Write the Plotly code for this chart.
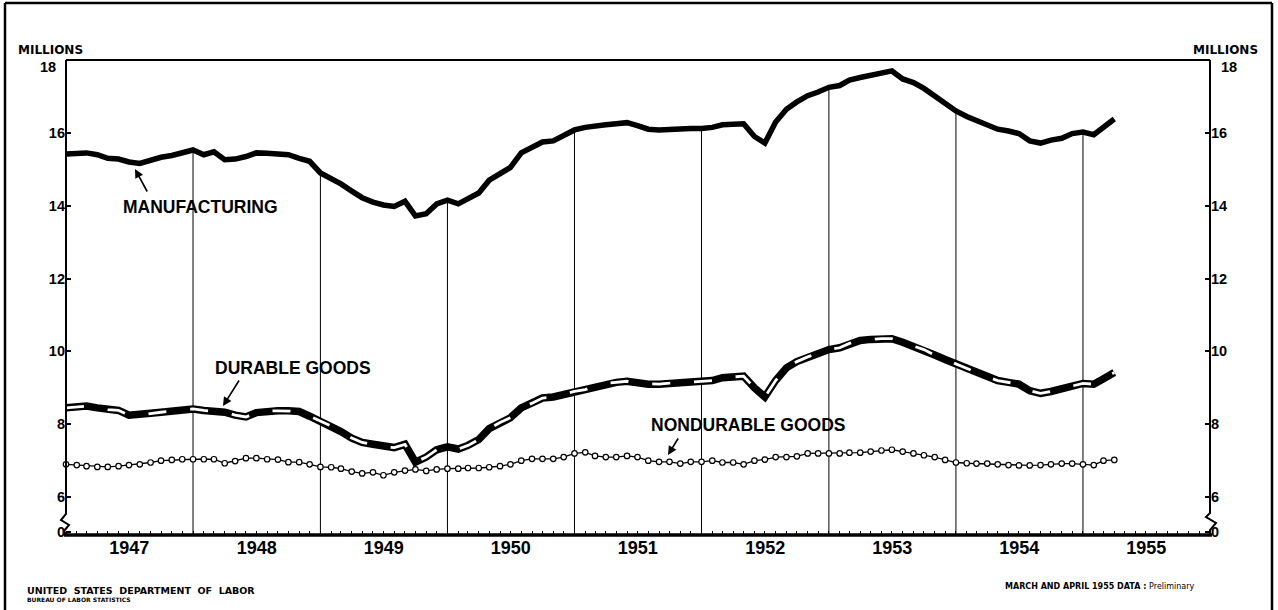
import plotly.graph_objects as go
import pandas as pd

# ---------------- data (millions of employees, monthly Jan 1947 - Apr 1955) ----------------
start_month = "1947-01-01"
n_months = 100
months = pd.date_range(start_month, periods=n_months, freq="MS")

manufacturing = [
    15.42, 15.44, 15.45, 15.40, 15.30, 15.28, 15.20, 15.16, 15.25, 15.33, 15.38, 15.45,
    15.53, 15.40, 15.48, 15.26, 15.28, 15.35, 15.45, 15.44, 15.42, 15.40, 15.30, 15.22,
    14.90, 14.75, 14.60, 14.40, 14.22, 14.10, 14.02, 13.98, 14.12, 13.72, 13.78, 14.05,
    14.15, 14.05, 14.20, 14.35, 14.70, 14.90, 15.05, 15.45, 15.60, 15.75, 15.78, 15.92,
    16.08, 16.15, 16.20, 16.22, 16.25, 16.28, 16.20, 16.10, 16.08, 16.10, 16.10, 16.12,
    16.12, 16.15, 16.22, 16.22, 16.25, 15.90, 15.72, 16.30, 16.65, 16.85, 17.02, 17.12,
    17.25, 17.30, 17.45, 17.52, 17.58, 17.62, 17.70, 17.48, 17.38, 17.22, 17.00, 16.82,
    16.60, 16.45, 16.35, 16.22, 16.10, 16.05, 15.98, 15.78, 15.72, 15.80, 15.85, 15.98,
    16.02, 15.95, 16.15, 16.38,
]

durable_goods = [
    8.45, 8.48, 8.50, 8.45, 8.40, 8.38, 8.25, 8.25, 8.30, 8.33, 8.36, 8.39,
    8.42, 8.38, 8.36, 8.33, 8.25, 8.20, 8.32, 8.36, 8.37, 8.37, 8.35, 8.22,
    8.08, 7.95, 7.80, 7.62, 7.50, 7.45, 7.38, 7.36, 7.45, 6.96, 7.10, 7.30,
    7.38, 7.32, 7.42, 7.58, 7.88, 8.05, 8.18, 8.45, 8.58, 8.72, 8.75, 8.82,
    8.90, 8.95, 9.05, 9.12, 9.15, 9.18, 9.12, 9.10, 9.10, 9.13, 9.18, 9.16,
    9.18, 9.20, 9.28, 9.30, 9.32, 9.00, 8.75, 9.20, 9.55, 9.72, 9.85, 9.95,
    10.05, 10.10, 10.22, 10.30, 10.33, 10.35, 10.35, 10.25, 10.15, 10.05, 9.90, 9.78,
    9.65, 9.52, 9.42, 9.30, 9.20, 9.15, 9.10, 8.92, 8.85, 8.90, 8.95, 9.05,
    9.12, 9.10, 9.25, 9.42,
]

nondurable_goods = [
    6.90, 6.88, 6.85, 6.83, 6.83, 6.85, 6.88, 6.90, 6.95, 7.00, 7.02, 7.04,
    7.04, 7.04, 7.04, 6.93, 6.99, 7.07, 7.07, 7.04, 7.03, 6.96, 6.96, 6.90,
    6.83, 6.82, 6.78, 6.70, 6.65, 6.68, 6.60, 6.68, 6.73, 6.76, 6.72, 6.76,
    6.78, 6.78, 6.80, 6.80, 6.82, 6.85, 6.90, 7.00, 7.05, 7.05, 7.05, 7.10,
    7.20, 7.23, 7.13, 7.10, 7.10, 7.13, 7.10, 7.00, 6.97, 6.97, 6.92, 6.97,
    6.97, 7.00, 6.95, 6.95, 6.90, 7.00, 7.03, 7.10, 7.10, 7.12, 7.20, 7.20,
    7.20, 7.20, 7.22, 7.22, 7.25, 7.28, 7.30, 7.25, 7.20, 7.15, 7.10, 7.02,
    6.95, 6.93, 6.92, 6.92, 6.90, 6.88, 6.87, 6.87, 6.88, 6.90, 6.92, 6.92,
    6.90, 6.88, 7.00, 7.02,
]

years = [1947, 1948, 1949, 1950, 1951, 1952, 1953, 1954, 1955]
year_labels = [str(y) for y in years]
y_tick_values = [5.05, 6, 8, 10, 12, 14, 16, 18]
y_tick_labels = ["0", "6", "8", "10", "12", "14", "16", ""]
top_label = "18"
y_bottom = 4.96
y_top = 18

# ---------------- figure ----------------
SANS = "Liberation Sans, Arial, sans-serif"
HEAVY = "DejaVu Sans, Verdana, sans-serif"

fig = go.Figure()

# vertical year lines, from the base up to the manufacturing curve
vx, vy = [], []
for i, d in enumerate(months):
    if d.month == 1 and d.year > 1947:
        vx += [d, d, None]
        vy += [y_bottom, manufacturing[i], None]
fig.add_trace(go.Scatter(x=vx, y=vy, mode="lines", line=dict(color="black", width=1),
                         hoverinfo="skip", showlegend=False))

fig.add_trace(go.Scatter(x=months, y=manufacturing, mode="lines", name="Manufacturing",
                         line=dict(color="black", width=5.5), showlegend=False))

fig.add_trace(go.Scatter(x=months, y=durable_goods, mode="lines", name="Durable goods",
                         line=dict(color="black", width=7.5), showlegend=False))
fig.add_trace(go.Scatter(x=months, y=durable_goods, mode="lines", hoverinfo="skip",
                         line=dict(color="white", width=2.8, dash="18px,24px"), showlegend=False))

fig.add_trace(go.Scatter(x=months, y=nondurable_goods, mode="lines+markers", name="Nondurable goods",
                         line=dict(color="black", width=1.3),
                         marker=dict(symbol="circle", size=5.5, color="white",
                                     line=dict(color="black", width=1.2)),
                         showlegend=False, cliponaxis=False))

# dummy trace to activate right axis
fig.add_trace(go.Scatter(x=[months[0]], y=[manufacturing[0]], yaxis="y2", mode="markers",
                         marker=dict(opacity=0), hoverinfo="skip", showlegend=False))

L, R, T, B = 66, 1210, 60, 535
W, H = 1278, 610
def px(x):
    return (x - L) / (R - L)
def py(y):
    return (B - y) / (B - T)

shapes = []
blk = dict(color="black", width=2)
# plot frame with axis breaks
shapes.append(dict(type="line", xref="paper", yref="paper", x0=0, x1=1, y0=1, y1=1, line=blk))
left_path = "M {},{} L {},{} L {},{} L {},{} L {},{} L {},{}".format(
    px(66), py(60), px(66), py(514), px(61), py(520), px(69), py(525), px(64), py(531), px(66), py(535))
right_path = "M {},{} L {},{} L {},{} L {},{} L {},{} L {},{}".format(
    px(1210), py(60), px(1210), py(513), px(1206), py(517), px(1216), py(523), px(1210), py(530), px(1210), py(535))
shapes.append(dict(type="path", xref="paper", yref="paper", path=left_path, line=blk))
shapes.append(dict(type="path", xref="paper", yref="paper", path=right_path, line=blk))
shapes.append(dict(type="line", xref="paper", yref="paper", x0=px(64), x1=px(1212), y0=0, y1=0,
                   line=dict(color="black", width=3.5)))
# outer page frame
frame = dict(color="black", width=2.5)
shapes.append(dict(type="line", xref="paper", yref="paper", x0=px(5), x1=px(5), y0=py(3), y1=py(615), line=frame))
shapes.append(dict(type="line", xref="paper", yref="paper", x0=px(1272), x1=px(1272), y0=py(3), y1=py(615), line=frame))
shapes.append(dict(type="line", xref="paper", yref="paper", x0=px(5), x1=px(1272), y0=py(3), y1=py(3), line=frame))

label_font = dict(family=SANS, size=17.5, color="black", weight="bold")
def txt(x, y, text, font, xanchor="center"):
    return dict(x=px(x), y=py(y), xref="paper", yref="paper", text=text, showarrow=False,
                xanchor=xanchor, yanchor="middle", font=font)
def arrow(x, y, ax, ay):
    return dict(x=px(x), y=py(y), xref="paper", yref="paper", text="", showarrow=True,
                ax=ax, ay=ay, arrowhead=2, arrowsize=1.1, arrowwidth=1.6, arrowcolor="black")

millions_font = dict(family=HEAVY, size=12, color="black", weight="bold")
tick_font = dict(family=SANS, size=14.5, color="black", weight="bold")
annotations = [
    txt(200, 207, "MANUFACTURING", label_font),
    arrow(135, 169, 13, 24),
    txt(293, 368, "DURABLE GOODS", label_font),
    arrow(223, 406, 17, -27),
    txt(748, 425, "NONDURABLE GOODS", label_font),
    arrow(668, 455, 11, -18),
    txt(50, 50, "MILLIONS", millions_font),
    txt(1225, 50, "MILLIONS", millions_font),
    txt(58, 67, top_label, tick_font, xanchor="right"),
    txt(1219, 67, top_label, tick_font, xanchor="left"),
    txt(25, 590, "UNITED  STATES  DEPARTMENT  OF  LABOR",
        dict(family=HEAVY, size=9.5, color="black", weight="bold"), xanchor="left"),
    txt(25, 599, "BUREAU OF LABOR STATISTICS",
        dict(family=HEAVY, size=6, color="black", weight="bold"), xanchor="left"),
    txt(1197, 586, "MARCH AND APRIL 1955 DATA : <span style='font-weight:normal'>Preliminary</span>",
        dict(family=HEAVY, size=8, color="black", weight="bold"), xanchor="right"),
]

fig.update_layout(
    width=W, height=H,
    margin=dict(l=L, r=W - R, t=T, b=H - B, pad=0),
    paper_bgcolor="white", plot_bgcolor="white",
    showlegend=False,
    shapes=shapes,
    annotations=annotations,
    xaxis=dict(
        type="date",
        range=["1947-01-01", "1956-01-01"],
        tickmode="array",
        tickvals=[f"{y}-07-02" for y in years],
        ticktext=year_labels,
        ticks="",
        showgrid=False, zeroline=False, showline=False,
        tickfont=dict(family=SANS, size=18, color="black", weight="bold"),
        minor=dict(tickmode="linear", tick0="1947-01-01", dtick="M1", ticks="inside",
                   ticklen=4, tickwidth=1, tickcolor="black", showgrid=False),
    ),
    yaxis=dict(
        range=[y_bottom, y_top],
        tickmode="array", tickvals=y_tick_values, ticktext=y_tick_labels,
        ticks="inside", ticklen=5, tickwidth=1.5, tickcolor="black",
        showgrid=False, zeroline=False, showline=False,
        tickfont=tick_font,
    ),
    yaxis2=dict(
        range=[y_bottom, y_top], overlaying="y", side="right",
        tickmode="array", tickvals=y_tick_values, ticktext=y_tick_labels,
        ticks="inside", ticklen=5, tickwidth=1.5, tickcolor="black",
        showgrid=False, zeroline=False, showline=False,
        tickfont=tick_font,
    ),
)

fig.write_html("out.html", config={"displayModeBar": False},
               post_script="document.body.style.margin='0';document.body.style.overflow='hidden';")
